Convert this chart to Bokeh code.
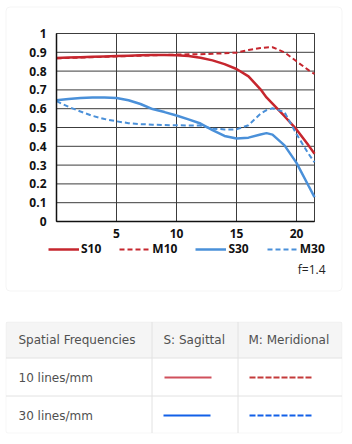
from bokeh.plotting import figure
from bokeh.models import Range1d, Legend, LegendItem, Label, BoxAnnotation, Arrow
from bokeh.embed import file_html
from bokeh.resources import INLINE

# ---------------- data ----------------
FIELD = [0, 1, 2, 3, 4, 5, 6, 7, 8, 9, 10, 11, 12, 13, 14, 15, 16, 17, 17.5, 18, 19, 20, 21, 21.5]
S10 = [0.870, 0.872, 0.874, 0.876, 0.878, 0.880, 0.882, 0.884, 0.885, 0.885, 0.884, 0.880,
       0.871, 0.857, 0.837, 0.811, 0.772, 0.703, 0.660, 0.627, 0.560, 0.490, 0.405, 0.360]
M10 = [0.868, 0.870, 0.872, 0.874, 0.876, 0.878, 0.880, 0.882, 0.884, 0.886, 0.888, 0.889,
       0.890, 0.892, 0.895, 0.898, 0.912, 0.923, 0.926, 0.927, 0.900, 0.852, 0.805, 0.785]
S30 = [0.645, 0.652, 0.657, 0.659, 0.659, 0.657, 0.645, 0.625, 0.598, 0.582, 0.564, 0.543,
       0.521, 0.486, 0.455, 0.442, 0.446, 0.463, 0.470, 0.462, 0.405, 0.312, 0.190, 0.130]
M30 = [0.640, 0.610, 0.585, 0.562, 0.545, 0.533, 0.523, 0.518, 0.515, 0.513, 0.512, 0.511,
       0.510, 0.494, 0.490, 0.490, 0.512, 0.573, 0.592, 0.602, 0.582, 0.465, 0.360, 0.315]
SERIES_NAMES = ["S10", "M10", "S30", "M30"]
X_TICKS = [5, 10, 15, 20]
Y_TICKS = [0, 0.1, 0.2, 0.3, 0.4, 0.5, 0.6, 0.7, 0.8, 0.9, 1]
Y_TICK_LABELS = ["0", "0.1", "0.2", "0.3", "0.4", "0.5", "0.6", "0.7", "0.8", "0.9", "1"]
F_NUMBER = "f=1.4"
TABLE_HEADERS = ["Spatial Frequencies", "S: Sagittal", "M: Meridional"]
TABLE_ROWS = ["10 lines/mm", "30 lines/mm"]

# ---------------- styles / layout ----------------
W, H = 352, 444
FL, FR, FT, FB = 56, 314, 33, 221  # chart plotting area in canvas pixels
RED = "#c6262e"
BLUE = "#4a90d9"
T_RED_SOLID = "#d0505c"
T_RED_DASH = "#c43a3a"
T_BLUE = "#1260e8"
GRID = "#3c3c3c"
TABLE_LINE = "#e2e2e2"
TEXT_GRAY = "#505050"
CHART_FONT = "Open Sans"
TABLE_FONT = "DejaVu Sans"

X0, X1 = FIELD[0], FIELD[-1]
Y0, Y1 = Y_TICKS[0], Y_TICKS[-1]
kx = (FR - FL) / (X1 - X0)
ky = (FB - FT) / (Y1 - Y0)
x_range = Range1d(X0 - FL / kx, X1 + (W - FR) / kx)
y_range = Range1d(Y0 - (H - FB) / ky, Y1 + FT / ky)


def sx(px):  # canvas px -> screen units (frame == canvas)
    return px


def sy(py):
    return H - py


p = figure(width=W, height=H, x_range=x_range, y_range=y_range, title=None,
           output_backend="svg", toolbar_location=None,
           min_border=0, min_border_left=0, min_border_right=0, min_border_top=0, min_border_bottom=0)
p.background_fill_color = "white"
p.border_fill_color = "white"
p.outline_line_color = None
p.xgrid.visible = False
p.ygrid.visible = False

p.xaxis.ticker = X_TICKS
p.yaxis.ticker = Y_TICKS
p.yaxis.major_label_overrides = {t: l for t, l in zip(Y_TICKS, Y_TICK_LABELS)}
p.xaxis.fixed_location = Y0
p.yaxis.fixed_location = X0
p.xaxis.bounds = (X0, X1)
p.yaxis.bounds = (Y0, Y1)
for ax in (p.xaxis, p.yaxis):
    ax.major_tick_line_color = None
    ax.minor_tick_line_color = None
    ax.axis_line_color = "#111111"
    ax.axis_line_width = 1.5
    ax.major_label_text_font = CHART_FONT
    ax.major_label_text_font_style = "bold"
    ax.major_label_text_font_size = "12px"
    ax.major_label_text_color = "#111111"
p.xaxis.major_label_standoff = 1
p.yaxis.major_label_standoff = 4

# grid lines at the tick positions, bounded to the plotting area
p.segment(x0=X_TICKS, y0=[Y0] * len(X_TICKS), x1=X_TICKS, y1=[Y1] * len(X_TICKS),
          line_color=GRID, line_width=1)
p.segment(x0=[X0] * len(Y_TICKS), y0=Y_TICKS, x1=[X1] * len(Y_TICKS), y1=Y_TICKS,
          line_color=GRID, line_width=1)
p.quad(left=[X0], right=[X1], bottom=[Y0], top=[Y1], fill_alpha=0, line_color=GRID, line_width=1)

r_s10 = p.line(FIELD, S10, line_color=RED, line_width=2.5)
r_m10 = p.line(FIELD, M10, line_color=RED, line_width=2, line_dash="5 3")
r_s30 = p.line(FIELD, S30, line_color=BLUE, line_width=2.5)
r_m30 = p.line(FIELD, M30, line_color=BLUE, line_width=2, line_dash="5 3")

legend = Legend(items=[LegendItem(label=n, renderers=[r]) for n, r in
                       zip(SERIES_NAMES, [r_s10, r_m10, r_s30, r_m30])],
                orientation="horizontal", location=(sx(48), sy(257)),
                padding=0, margin=0, spacing=18, glyph_width=31, glyph_height=16,
                label_height=16, label_standoff=2,
                border_line_color=None, background_fill_alpha=0,
                label_text_font=CHART_FONT, label_text_font_style="bold",
                label_text_font_size="12px", label_text_color="#111111")
p.add_layout(legend, "center")

p.add_layout(Label(x=sx(325), y=sy(269), x_units="screen", y_units="screen", text=F_NUMBER,
                   text_align="right", text_baseline="middle", text_font=CHART_FONT,
                   text_font_size="12px", text_color="#222222"))

# card around chart
p.add_layout(BoxAnnotation(left=sx(5.5), right=sx(341.5), top=sy(6.5), bottom=sy(290.5),
                           left_units="screen", right_units="screen", top_units="screen",
                           bottom_units="screen", fill_alpha=0, line_color="#dadada",
                           line_width=1, border_radius=4))

# table
TX0, TX1, TY0, TY1 = 5.5, 341.5, 321.5, 432.5
COL_X = [151.5, 237.5]
ROW_Y = [357.5, 395.5]
p.add_layout(BoxAnnotation(left=sx(TX0), right=sx(TX1), top=sy(TY0), bottom=sy(ROW_Y[0]),
                           left_units="screen", right_units="screen", top_units="screen",
                           bottom_units="screen", fill_color="#f5f5f5", fill_alpha=1,
                           line_color=None, level="underlay"))
p.add_layout(BoxAnnotation(left=sx(TX0), right=sx(TX1), top=sy(TY0), bottom=sy(TY1),
                           left_units="screen", right_units="screen", top_units="screen",
                           bottom_units="screen", fill_alpha=0, line_color=TABLE_LINE,
                           line_width=1, border_radius=2))
for cx in COL_X:
    p.add_layout(Arrow(end=None, x_start=sx(cx), y_start=sy(TY0), x_end=sx(cx), y_end=sy(TY1),
                       start_units="screen", end_units="screen", line_color=TABLE_LINE, line_width=1))
for ry in ROW_Y:
    p.add_layout(Arrow(end=None, x_start=sx(TX0), y_start=sy(ry), x_end=sx(TX1), y_end=sy(ry),
                       start_units="screen", end_units="screen", line_color=TABLE_LINE, line_width=1))

header_x = [18, 163, 248]
for hx, txt in zip(header_x, TABLE_HEADERS):
    p.add_layout(Label(x=sx(hx), y=sy(339.5), x_units="screen", y_units="screen", text=txt,
                       text_baseline="middle", text_font=TABLE_FONT, text_font_size="12px",
                       text_color=TEXT_GRAY))
row_y = [377.5, 415.5]
for yy, txt in zip(row_y, TABLE_ROWS):
    p.add_layout(Label(x=sx(18), y=sy(yy), x_units="screen", y_units="screen", text=txt,
                       text_baseline="middle", text_font=TABLE_FONT, text_font_size="12px",
                       text_color=TEXT_GRAY))

samples = [
    (164, 211, 377, T_RED_SOLID, "solid"),
    (249, 311, 377, T_RED_DASH, "6 2"),
    (163, 210, 415, T_BLUE, "solid"),
    (249, 311, 415, T_BLUE, "6 2"),
]
for x0, x1, yy, col, dash in samples:
    p.add_layout(Arrow(end=None, x_start=sx(x0), y_start=sy(yy), x_end=sx(x1), y_end=sy(yy),
                       start_units="screen", end_units="screen", line_color=col, line_width=2,
                       line_dash=dash))

open("out.html", "w").write(file_html(p, INLINE))
